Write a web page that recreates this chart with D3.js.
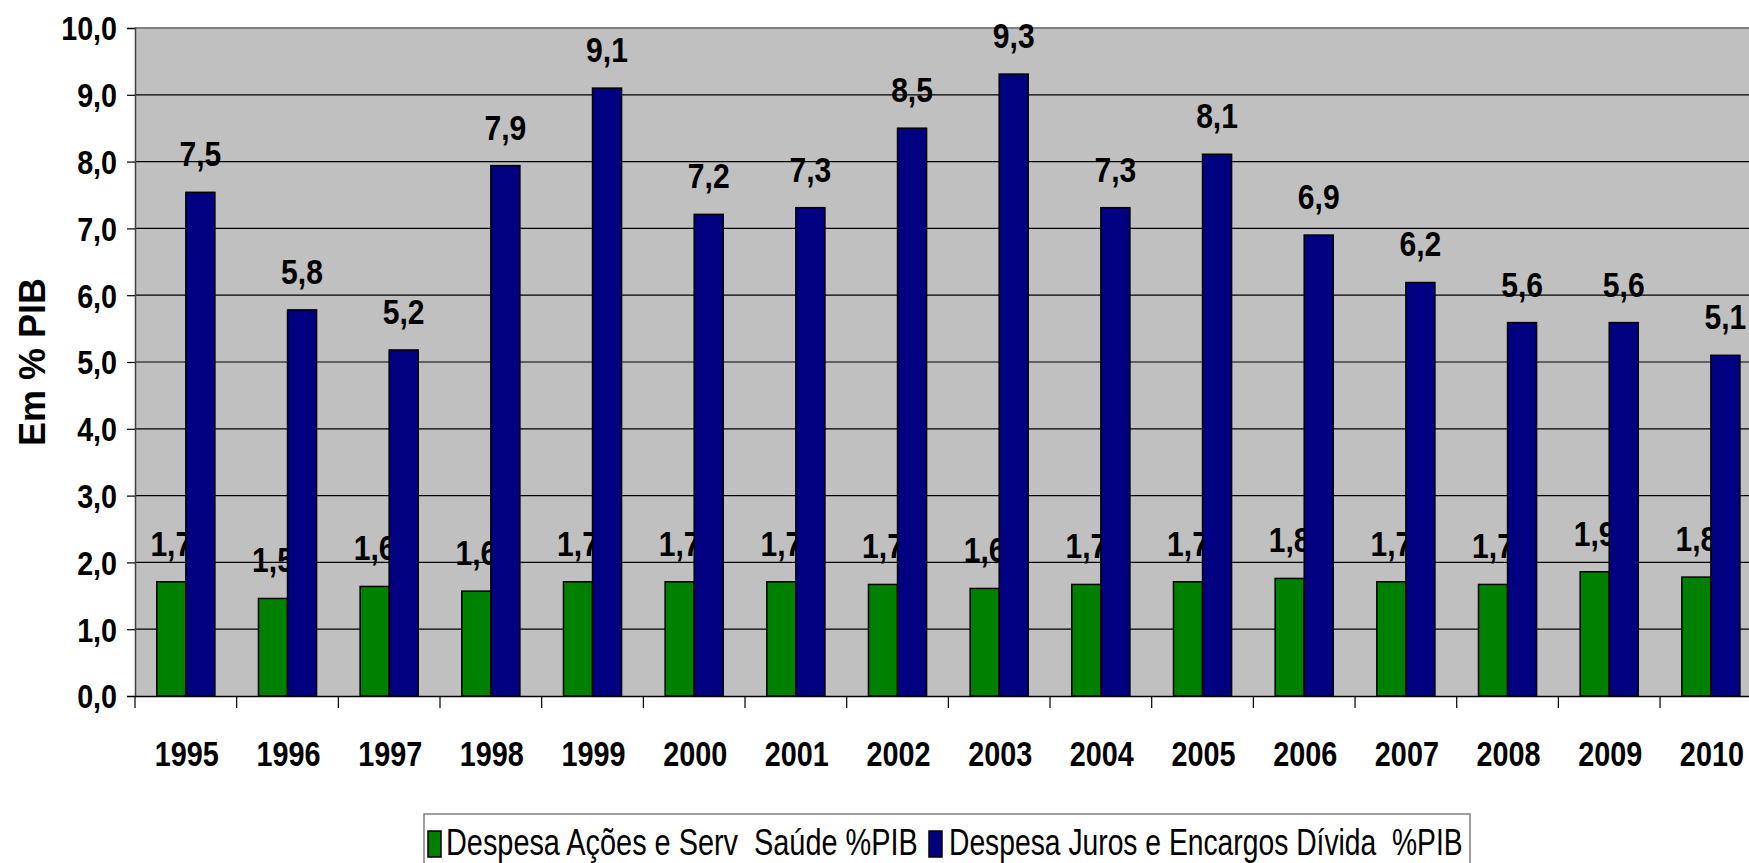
<!DOCTYPE html>
<html>
<head>
<meta charset="utf-8">
<script src="https://cdn.jsdelivr.net/npm/d3@7"></script>
<style>
  html, body { margin: 0; padding: 0; background: #fff; overflow: hidden; }
  svg { display: block; font-family: "Liberation Sans", Arial, sans-serif; }
</style>
</head>
<body>
<svg id="chart" width="1749" height="863"></svg>
<script>
// Annual spending as a share of GDP
const years = ["1995","1996","1997","1998","1999","2000","2001","2002",
               "2003","2004","2005","2006","2007","2008","2009","2010"];
const saude = [1.71,1.46,1.64,1.57,1.71,1.71,1.71,1.67,
               1.61,1.67,1.71,1.76,1.71,1.67,1.86,1.78];
const juros = [7.54,5.78,5.18,7.94,9.10,7.21,7.31,8.50,
               9.31,7.31,8.11,6.90,6.19,5.59,5.59,5.10];
const seriesNames = ["Despesa Ações e Serv  Saúde %PIB",
                     "Despesa Juros e Encargos Dívida  %PIB"];
const yTicks = [0,1,2,3,4,5,6,7,8,9,10];

const colors = ["#008000", "#000080"];

const ptBR = d3.formatLocale({decimal: ",", thousands: ".", grouping: [3], currency: ["R$", ""]});
const fmt = ptBR.format(".1f");

// squeeze text horizontally around its anchor point to get a narrow face
function condense(sel, factor) {
  sel.each(function () {
    const t = d3.select(this);
    const ax = +(t.attr("x") || 0), ay = +(t.attr("y") || 0);
    t.attr("transform", `translate(${ax},${ay}) scale(${factor},1) translate(${-ax},${-ay})`);
  });
}

const svg = d3.select("#chart");
const plotLeft = 135, plotTop = 28, plotBottom = 696;
const step = 101.67;
const plotRight = plotLeft + step * years.length;

const x = d3.scaleBand().domain(years).range([plotLeft, plotRight]).paddingInner(0).paddingOuter(0);
const xs = d3.scaleBand().domain([0, 1]).range([0, x.bandwidth()]).paddingInner(0).paddingOuter(0.75);
const y = d3.scaleLinear().domain([0, 10]).range([plotBottom, plotTop]);

// plot background
svg.append("rect")
  .attr("x", plotLeft).attr("y", plotTop)
  .attr("width", plotRight - plotLeft).attr("height", plotBottom - plotTop)
  .attr("fill", "#c0c0c0");

// horizontal gridlines
svg.append("g").selectAll("line")
  .data(yTicks.filter(d => d > 0 && d < 10))
  .join("line")
  .attr("x1", plotLeft).attr("x2", plotRight)
  .attr("y1", d => y(d)).attr("y2", d => y(d))
  .attr("stroke", "#000").attr("stroke-width", 1.2);

// top border
svg.append("line")
  .attr("x1", plotLeft).attr("x2", plotRight)
  .attr("y1", y(10)).attr("y2", y(10))
  .attr("stroke", "#808080").attr("stroke-width", 2);

// y axis
const yAxis = svg.append("g")
  .attr("transform", `translate(${plotLeft},0)`)
  .call(d3.axisLeft(y).tickValues(yTicks).tickFormat(fmt).tickSize(8).tickPadding(10));
yAxis.select(".domain").attr("stroke", "#404040").attr("stroke-width", 1.5);
yAxis.selectAll(".tick line").attr("stroke", "#000").attr("stroke-width", 1.2);
yAxis.selectAll(".tick text")
  .attr("fill", "#000")
  .attr("dy", "0.36em")
  .style("font-size", "33px").style("font-weight", "bold")
  .call(condense, 0.87);

// y title
svg.append("text")
  .attr("transform", `translate(45,${(plotTop + plotBottom) / 2}) rotate(-90)`)
  .attr("text-anchor", "middle")
  .style("font-size", "36px").style("font-weight", "bold")
  .text("Em % PIB");

function drawSeries(vals, i) {
  const g = svg.append("g");
  g.selectAll("rect")
    .data(vals)
    .join("rect")
    .attr("x", (d, k) => x(years[k]) + xs(i))
    .attr("width", xs.bandwidth())
    .attr("y", d => y(d))
    .attr("height", d => y(0) - y(d))
    .attr("fill", colors[i])
    .attr("stroke", "#000").attr("stroke-width", 1.5);
  g.selectAll("text")
    .data(vals)
    .join("text")
    .attr("x", (d, k) => x(years[k]) + xs(i) + xs.bandwidth() / 2)
    .attr("y", d => y(d) - 26)
    .attr("text-anchor", "middle")
    .style("font-size", "35px").style("font-weight", "bold")
    .text(d => fmt(d))
    .call(condense, 0.86);
}
drawSeries(saude, 0);
drawSeries(juros, 1);

// x axis
const xAxis = svg.append("g")
  .attr("transform", `translate(0,${plotBottom})`)
  .call(d3.axisBottom(x).tickSize(0).tickPadding(0));
xAxis.select(".domain").attr("stroke", "#000").attr("stroke-width", 1.5);
xAxis.selectAll(".tick text")
  .attr("x", 1).attr("y", 70).attr("dy", 0)
  .attr("fill", "#000")
  .style("font-size", "36px").style("font-weight", "bold")
  .call(condense, 0.8);
// category boundary ticks
xAxis.append("g").selectAll("line")
  .data(years)
  .join("line")
  .attr("x1", d => x(d)).attr("x2", d => x(d))
  .attr("y1", 0).attr("y2", 12)
  .attr("stroke", "#000").attr("stroke-width", 1.2);

// legend
const lg = svg.append("g");
lg.append("rect")
  .attr("x", 424).attr("y", 814)
  .attr("width", 1046).attr("height", 90)
  .attr("fill", "#fff").attr("stroke", "#808080").attr("stroke-width", 1.5);
const legendItems = [
  {sx: 428, tx: 446, w: 472},
  {sx: 929, tx: 949, w: 514}
];
legendItems.forEach((it, i) => {
  lg.append("rect")
    .attr("x", it.sx).attr("y", 831)
    .attr("width", 13).attr("height", 26)
    .attr("fill", colors[i]).attr("stroke", "#000").attr("stroke-width", 1.5);
  const t = lg.append("text")
    .attr("x", it.tx).attr("y", 855)
    .style("font-size", "37px")
    .style("white-space", "pre")
    .text(seriesNames[i]);
  const natural = t.node().getComputedTextLength();
  t.call(condense, it.w / natural);
});
</script>
</body>
</html>
